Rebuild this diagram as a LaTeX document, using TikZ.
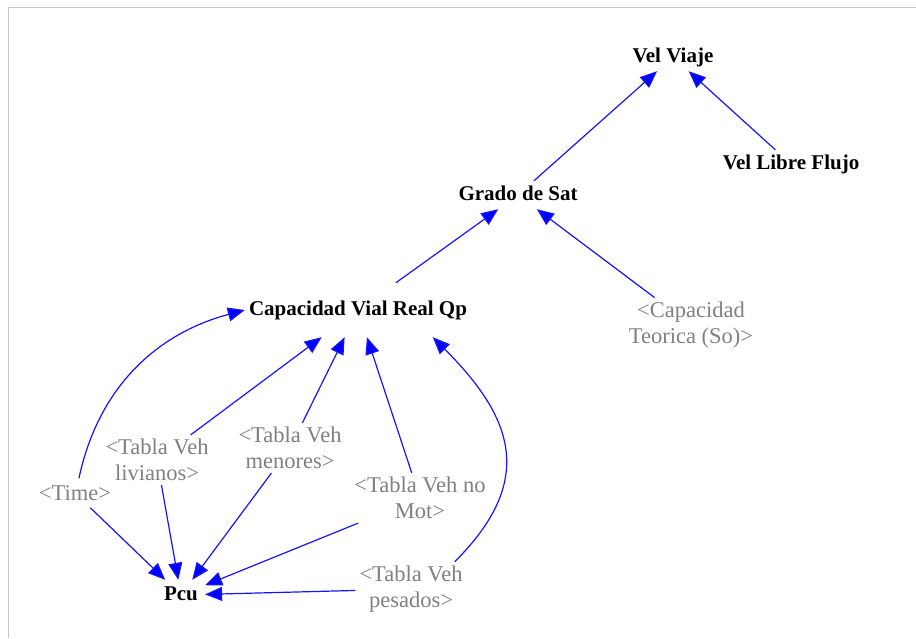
\documentclass[tikz,border=0pt]{standalone}
\usepackage{fontspec}
\setmainfont{Liberation Serif}
\usetikzlibrary{arrows.meta}
\definecolor{frameg}{RGB}{200,200,200}
\definecolor{lblgray}{RGB}{128,128,128}
\definecolor{arrblue}{RGB}{20,20,255}
\begin{document}
\begin{tikzpicture}[x=1pt,y=1pt,
  var/.style={font=\fontsize{21}{25}\selectfont\bfseries, text=black, text height=15pt, text depth=5pt, inner xsep=4pt, inner ysep=4pt},
  shadowvar/.style={font=\fontsize{22.5}{26}\selectfont, text=lblgray, align=center, inner sep=4pt},
  link/.style={draw=arrblue, line width=1.2pt, -{Triangle[length=17pt,width=14pt,fill=blue]}}]
\useasboundingbox (0,0) rectangle (916,-638);
\draw[frameg, line width=1.5pt] (8.5,-638) -- (8.5,-7.5) -- (916,-7.5);

\node[var] (vv) at (673,-57) {Vel Viaje};
\node[var] (vlf) at (791,-164) {Vel Libre Flujo};
\node[var] (gs) at (518,-195) {Grado de Sat};
\node[var, minimum height=54pt] (cap) at (358,-310) {Capacidad Vial Real Qp};
\node[var, inner xsep=7pt, inner ysep=5pt] (pcu) at (181,-595) {Pcu};

\node[shadowvar] (cts) at (691,-325) {<Capacidad\\Teorica (So)>};
\node[shadowvar, inner ysep=7pt] (time) at (75,-493) {<Time>};
\node[shadowvar] (liv) at (157,-460) {<Tabla Veh\\livianos>};
\node[shadowvar] (men) at (290,-448) {<Tabla Veh\\menores>};
\node[shadowvar] (nomot) at (420,-498) {<Tabla Veh no\\Mot>};
\node[shadowvar] (pes) at (411,-589) {<Tabla Veh\\pesados>};

\draw[link] (gs) -- (vv);
\draw[link] (vlf) -- (vv);
\draw[link] (cap) -- (gs);
\draw[link] (cts) -- (gs);
\draw[link] (time.75) to[out=78,in=195] (cap.west);
\draw[link] (liv) -- (cap);
\draw[link] (men) -- (cap);
\draw[link] (nomot) -- (cap);
\draw[link] (pes.32) to[out=45,in=-45,looseness=1.3] (cap.-20);
\draw[link] (time) -- (pcu);
\draw[link] (liv) -- (pcu);
\draw[link] (men) -- (pcu);
\draw[link] (nomot) -- (pcu);
\draw[link] (pes) -- (pcu);
\end{tikzpicture}
\end{document}
